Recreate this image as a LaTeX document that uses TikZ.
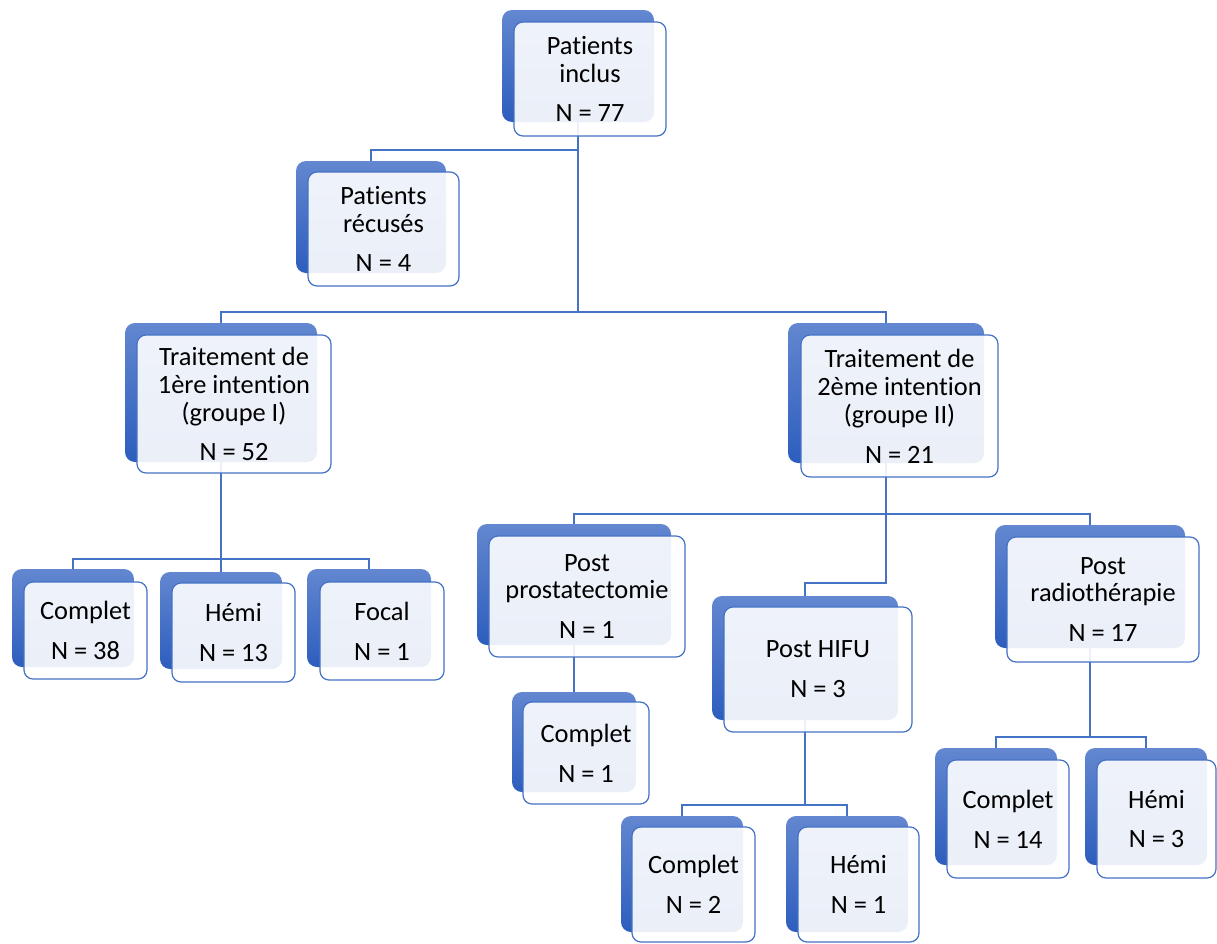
\documentclass[tikz,border=0pt]{standalone}
\usepackage{fontspec}
\setmainfont{Carlito}[Ligatures={NoCommon}]
\usetikzlibrary{fit}
\pgfdeclarelayer{bg}
\pgfsetlayers{bg,main}
\definecolor{bline}{HTML}{4472C4}
\definecolor{btop}{RGB}{99,135,208}
\definecolor{bbot}{RGB}{45,93,190}
\tikzset{
  backbox/.style={rectangle, rounded corners=10bp, inner sep=0pt, outer sep=0pt, top color=btop, bottom color=bbot, draw=none},
  frontbox/.style={rectangle, rounded corners=9bp, inner sep=0pt, outer sep=0pt, fill=white, fill opacity=0.9, draw=bline, draw opacity=1, line width=1.2bp},
  boxtext/.style={align=center, font=\fontsize{26.5}{28}\selectfont, inner sep=0pt, text=black},
  conn/.style={draw=bline, line width=1.3bp},
}
\newcommand\orgbox[4]{%
  \node[backbox, fit={#2}] (b#1) {};
  \node[frontbox, fit={#3}] (f#1) {};
  \node[boxtext] (t#1) at (f#1.center) {#4};
}
\begin{document}
\begin{tikzpicture}[x=1bp,y=-1bp]
\useasboundingbox (0,0) rectangle (1217,944);
\begin{pgfonlayer}{bg}
  \fill[white] (0,0) rectangle (1217,944);
\end{pgfonlayer}

\orgbox{0}{(502,10) (654,122)}{(514,22) (666,136)}{Patients\\inclus\\[12bp]N = 77}
\orgbox{1}{(296,161) (446,273)}{(308,172) (459,286)}{Patients\\récusés\\[12bp]N = 4}
\orgbox{2}{(125,323) (317,462)}{(137,335) (331,473)}{Traitement de\\1ère intention\\(groupe I)\\[12bp]N = 52}
\orgbox{3}{(788,323) (984,463)}{(801,335) (998,477)}{Traitement de\\2ème intention\\(groupe II)\\[12bp]N = 21}
\orgbox{4}{(12,569) (134,667)}{(24,582) (147,679)}{Complet\\[12bp]N = 38}
\orgbox{5}{(160,572) (282,669)}{(172,583) (295,682)}{Hémi\\[12bp]N = 13}
\orgbox{6}{(307,569) (431,667)}{(320,582) (444,680)}{Focal\\[12bp]N = 1}
\orgbox{7}{(477,524) (671,645)}{(489,536) (685,657)}{Post\\prostatectomie\\[12bp]N = 1}
\orgbox{8}{(712,596) (898,720)}{(724,607) (912,732)}{Post HIFU\\[12bp]N = 3}
\orgbox{9}{(995,525) (1185,648)}{(1007,537) (1199,662)}{Post\\radiothérapie\\[12bp]N = 17}
\orgbox{10}{(512,692) (636,792)}{(523,702) (649,804)}{Complet\\[12bp]N = 1}
\orgbox{11}{(621,816) (743,932)}{(632,827) (755,942)}{Complet\\[12bp]N = 2}
\orgbox{12}{(786,816) (908,932)}{(798,827) (919,942)}{Hémi\\[12bp]N = 1}
\orgbox{13}{(935,748) (1057,865)}{(947,760) (1069,878)}{Complet\\[12bp]N = 14}
\orgbox{14}{(1085,748) (1207,865)}{(1097,760) (1216,878)}{Hémi\\[12bp]N = 3}

\begin{pgfonlayer}{bg}
  \coordinate (bus0) at (0,150);
  \coordinate (bus1) at (0,312);
  \coordinate (bus2) at (0,559);
  \coordinate (bus3) at (0,514);
  \coordinate (bus4) at (0,583);
  \coordinate (bus5) at (0,805);
  \coordinate (bus6) at (0,737);
  \draw[conn] (b0.south) -- (b0.south |- bus1);
  \draw[conn] (b0.south |- bus0) -| (b1.north);
  \draw[conn] (b2.north) |- (b0.south |- bus1) -| (b3.north);
  \draw[conn] (b2.south) -- (b2.south |- b5.north);
  \draw[conn] (b4.north) |- (b2.south |- bus2) -| (b6.north);
  \draw[conn] (b3.south) -- (b3.south |- bus4) -| (b8.north);
  \draw[conn] (b7.north) |- (b3.south |- bus3) -| (b9.north);
  \draw[conn] (b7.south) -- (b7.south |- b10.north);
  \draw[conn] (b8.south) -- (b8.south |- bus5);
  \draw[conn] (b11.north) |- (b8.south |- bus5) -| (b12.north);
  \draw[conn] (b9.south) -- (b9.south |- bus6);
  \draw[conn] (b13.north) |- (b9.south |- bus6) -| (b14.north);
\end{pgfonlayer}
\end{tikzpicture}
\end{document}
